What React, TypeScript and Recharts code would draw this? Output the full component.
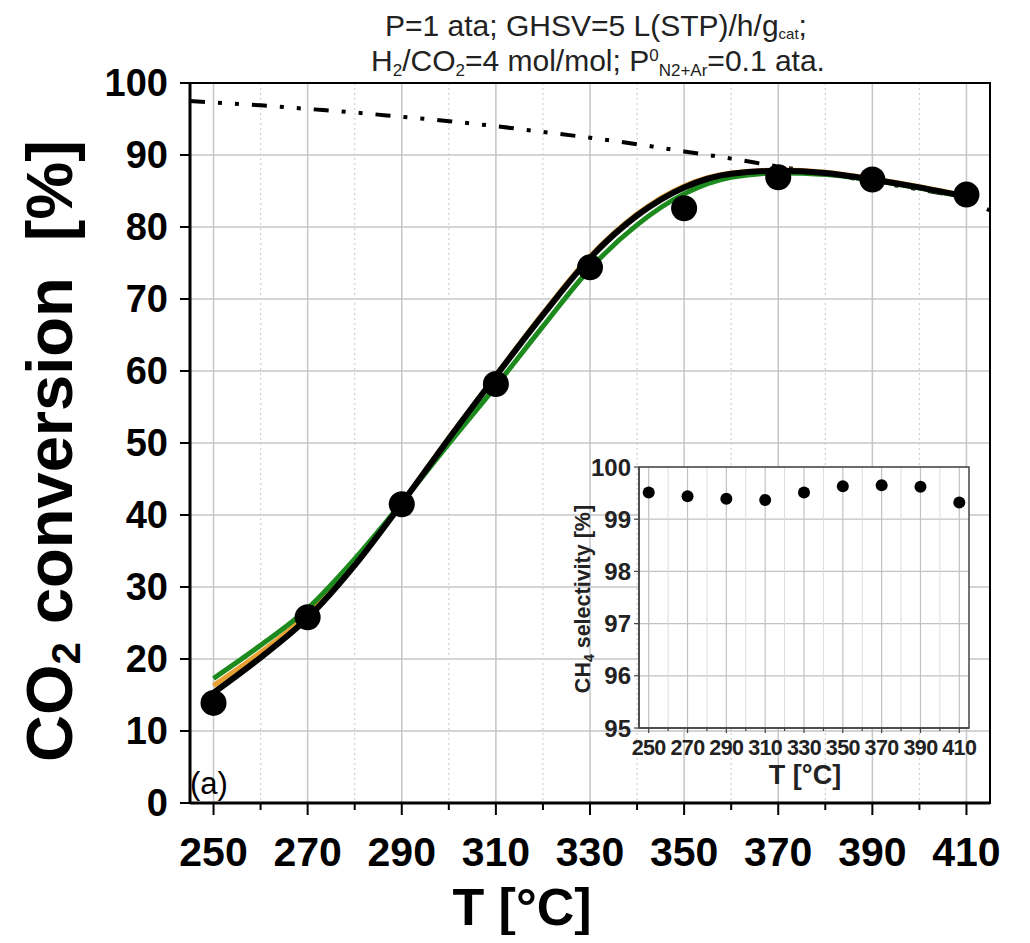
import React from 'react';
import { ComposedChart, Line, Scatter, XAxis, YAxis, CartesianGrid, ReferenceArea } from 'recharts';

const FONT = '"Liberation Sans", Arial, Helvetica, sans-serif';

// measured data (main plot + inset)
const measuredT = [250, 270, 290, 310, 330, 350, 370, 390, 410];
const co2Conversion = [13.9, 25.8, 41.5, 58.2, 74.4, 82.6, 86.9, 86.6, 84.5];
const ch4Selectivity = [99.51, 99.44, 99.39, 99.37, 99.51, 99.63, 99.65, 99.62, 99.32];

// model curves
const modelT = [250, 260, 270, 280, 290, 300, 310, 320, 330, 340, 350, 360, 370, 380, 390, 400, 410];
const modelBlack = [15.3, 20.2, 25.7, 33.0, 41.6, 50.6, 59.3, 67.8, 75.7, 81.6, 85.5, 87.4, 87.8, 87.5, 86.6, 85.5, 84.2];
const modelOrange = [16.3, 20.9, 26.2, 33.3, 41.7, 50.7, 59.4, 68.0, 75.9, 81.8, 85.7, 87.5, 87.9, 87.6, 86.7, 85.6, 84.3];
const modelGreen = [17.3, 21.9, 27.0, 33.9, 41.7, 49.9, 57.9, 66.2, 74.2, 80.3, 84.6, 86.9, 87.5, 87.3, 86.5, 85.4, 84.1];

// equilibrium conversion (dash-dot)
const eqT = [245, 250, 260, 270, 280, 290, 300, 310, 320, 330, 340, 350, 360, 370, 380, 390, 400, 410, 415];
const eqConversion = [97.5, 97.3, 96.9, 96.4, 95.9, 95.3, 94.7, 94.0, 93.2, 92.4, 91.5, 90.5, 89.5, 88.4, 87.4, 86.3, 85.2, 83.8, 82.3];

// ticks
const majorX = [250, 270, 290, 310, 330, 350, 370, 390, 410];
const minorX = [260, 280, 300, 320, 340, 360, 380, 400];
const allX = [250, 260, 270, 280, 290, 300, 310, 320, 330, 340, 350, 360, 370, 380, 390, 400, 410];
const mainYTicks = [0, 10, 20, 30, 40, 50, 60, 70, 80, 90, 100];
const insetYTicks = [95, 96, 97, 98, 99, 100];

const pts = (ts: number[], vs: number[]) => ts.map((t, i) => ({ t, v: vs[i] }));

const measuredData = pts(measuredT, co2Conversion);
const selectivityData = pts(measuredT, ch4Selectivity);
const blackData = pts(modelT, modelBlack);
const orangeData = pts(modelT, modelOrange);
const greenData = pts(modelT, modelGreen);
const eqData = pts(eqT, eqConversion);

const MainXTick = (props: any) => {
  const { x, y, payload } = props;
  const major = majorX.includes(payload.value);
  return (
    <g>
      <line x1={x} y1={y} x2={x} y2={y + (major ? 12 : 7)} stroke="#000" strokeWidth={2} />
      {major && (
        <text x={x} y={y + 63} textAnchor="middle" fontSize={41} fontWeight={700} fontFamily={FONT} fill="#000">
          {payload.value}
        </text>
      )}
    </g>
  );
};

const InsetXTick = (props: any) => {
  const { x, y, payload } = props;
  const major = majorX.includes(payload.value);
  return (
    <g>
      <line x1={x} y1={y} x2={x} y2={y + (major ? 5 : 3)} stroke="#444" strokeWidth={1.2} />
      {major && (
        <text x={x} y={y + 27} textAnchor="middle" fontSize={21.5} fontWeight={700} fontFamily={FONT}
          fill="#222" letterSpacing={-0.6}>
          {payload.value}
        </text>
      )}
    </g>
  );
};

const bigDot = (p: any) => <circle cx={p.cx} cy={p.cy} r={13} fill="#000" />;
const smallDot = (p: any) => <circle cx={p.cx} cy={p.cy} r={6} fill="#000" />;

export default function App() {
  return (
    <div style={{ position: 'relative', width: 1014, height: 927, fontFamily: FONT }}>
      <div style={{ position: 'absolute', left: 0, top: 0 }}>
        <ComposedChart width={1014} height={927} margin={{ top: 75, right: 32, bottom: 72, left: 82 }}>
          <CartesianGrid xAxisId="x" yAxisId="y" stroke="#c6c6c6" strokeWidth={1.5}
            verticalValues={majorX} horizontalValues={mainYTicks} />
          <CartesianGrid xAxisId="x" yAxisId="y" horizontal={false} stroke="#d2d2d2" strokeWidth={1.2}
            strokeDasharray="2 3" verticalValues={minorX} />
          <XAxis xAxisId="x" dataKey="t" type="number" domain={[245, 415]} ticks={allX} interval={0}
            allowDataOverflow tickSize={0} tickMargin={0} tick={(p: any) => <MainXTick {...p} />}
            axisLine={{ stroke: '#000', strokeWidth: 3 }} height={60} />
          <YAxis yAxisId="y" dataKey="v" type="number" domain={[0, 100]} ticks={mainYTicks} interval={0}
            allowDataOverflow tickSize={10} tickMargin={12} width={100}
            tick={{ fill: '#000', fontSize: 38, fontWeight: 700, fontFamily: FONT }}
            tickLine={{ stroke: '#000', strokeWidth: 2 }} axisLine={{ stroke: '#000', strokeWidth: 3 }} />
          <ReferenceArea xAxisId="x" yAxisId="y" x1={245} x2={415} y1={0} y2={100}
            fill="none" stroke="#000" strokeWidth={2} />
          <Line xAxisId="x" yAxisId="y" data={eqData} dataKey="v" type="monotone" stroke="#000"
            strokeWidth={4} strokeDasharray="15 13 4 13 4 13" dot={false} activeDot={false}
            isAnimationActive={false} />
          <Line xAxisId="x" yAxisId="y" data={orangeData} dataKey="v" type="monotone" stroke="#e8a033"
            strokeWidth={5} dot={false} activeDot={false} isAnimationActive={false} />
          <Line xAxisId="x" yAxisId="y" data={greenData} dataKey="v" type="monotone" stroke="#1c8a1c"
            strokeWidth={5} dot={false} activeDot={false} isAnimationActive={false} />
          <Line xAxisId="x" yAxisId="y" data={blackData} dataKey="v" type="monotone" stroke="#000"
            strokeWidth={6} dot={false} activeDot={false} isAnimationActive={false} />
          <Scatter xAxisId="x" yAxisId="y" data={measuredData} dataKey="v" shape={bigDot}
            isAnimationActive={false} />
        </ComposedChart>
      </div>

      <div style={{ position: 'absolute', left: 540, top: 430 }}>
        <ComposedChart width={440} height={370} margin={{ top: 29, right: 19, bottom: 40, left: 41 }}>
          <CartesianGrid xAxisId="x" yAxisId="y" fill="#fff" fillOpacity={1} stroke="#c2c2c2"
            strokeWidth={1.2} verticalValues={majorX} horizontalValues={insetYTicks} />
          <CartesianGrid xAxisId="x" yAxisId="y" horizontal={false} stroke="#dcdcdc" strokeWidth={1}
            verticalValues={minorX} />
          <XAxis xAxisId="x" dataKey="t" type="number" domain={[245, 415]} ticks={allX} interval={0}
            allowDataOverflow tickSize={0} tickMargin={0} tick={(p: any) => <InsetXTick {...p} />}
            axisLine={{ stroke: '#444', strokeWidth: 1.5 }} height={40} />
          <YAxis yAxisId="y" dataKey="v" type="number" domain={[95, 100]} ticks={insetYTicks} interval={0}
            allowDataOverflow tickSize={5} tickMargin={3} width={50}
            tick={{ fill: '#222', fontSize: 24, fontWeight: 700, fontFamily: FONT }}
            tickLine={{ stroke: '#444', strokeWidth: 1.2 }} axisLine={{ stroke: '#444', strokeWidth: 1.5 }} />
          <ReferenceArea xAxisId="x" yAxisId="y" x1={245} x2={415} y1={95} y2={100}
            fill="none" stroke="#444" strokeWidth={1.5} />
          <Scatter xAxisId="x" yAxisId="y" data={selectivityData} dataKey="v" shape={smallDot}
            isAnimationActive={false} />
        </ComposedChart>
      </div>

      <svg width={1014} height={927} style={{ position: 'absolute', left: 0, top: 0, pointerEvents: 'none' }}
        fontFamily={FONT}>
        <text x={588} y={28} textAnchor="middle" fontSize={30} fill="#222">
          P=1 ata; GHSV=5 L(STP)/h/g<tspan fontSize={15} dy={3}>cat</tspan><tspan dy={-3}>;</tspan>
        </text>
        <text x={590} y={63} textAnchor="middle" fontSize={30} fill="#222">
          H<tspan fontSize={17} dy={5}>2</tspan><tspan dy={-5}>/CO</tspan><tspan fontSize={17} dy={5}>2</tspan>
          <tspan dy={-5}>=4 mol/mol; P</tspan><tspan fontSize={17} dy={-10}>0</tspan>
          <tspan fontSize={17} dy={15}>N2+Ar</tspan><tspan dy={-5}>=0.1 ata.</tspan>
        </text>
        <text x={64} y={443} textAnchor="middle" fontSize={65} fontWeight={700} fill="#000"
          transform="rotate(-90, 64, 443)">
          CO<tspan fontSize={40} dy={8}>2</tspan><tspan dy={-8}>{'\u00A0conversion\u00A0\u00A0[%]'}</tspan>
        </text>
        <text x={514} y={917} textAnchor="middle" fontSize={52} fontWeight={700} fill="#000">T [°C]</text>
        <text x={182} y={786} fontSize={31} fill="#000">(a)</text>
        <text x={582} y={591} textAnchor="middle" fontSize={21.5} fontWeight={700} fill="#222"
          transform="rotate(-90, 582, 591)">
          CH<tspan fontSize={14} dy={4}>4</tspan><tspan dy={-4}>{' selectivity [%]'}</tspan>
        </text>
        <text x={797} y={776} textAnchor="middle" fontSize={27} fontWeight={700} fill="#222">T [°C]</text>
      </svg>
    </div>
  );
}
